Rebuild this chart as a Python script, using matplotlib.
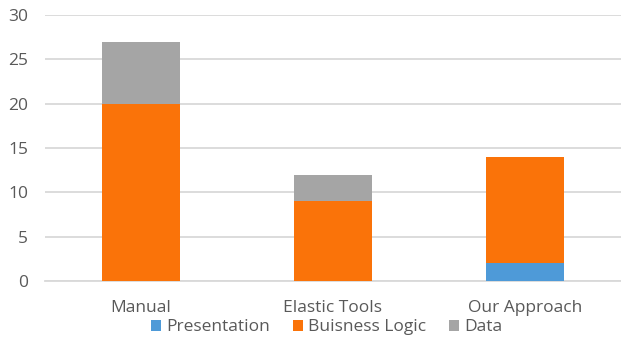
import matplotlib
matplotlib.use('Agg')
import matplotlib.pyplot as plt
import numpy as np

plt.rcParams['font.family'] = 'Open Sans'

categorias = ['Manual', 'Elastic Tools', 'Our Approach']
presentation = [0, 0, 2]
business = [20, 9, 12]
data = [7, 3, 0]
series = ['Presentation', 'Buisness Logic', 'Data']
colores = ['#4E9AD8', '#FA7309', '#A5A5A5']
yticks = [0, 5, 10, 15, 20, 25, 30]

fig = plt.figure(figsize=(6.21, 3.39), dpi=100)
ax = fig.add_axes([0.0725, 0.171, 0.927, 0.785])

x = np.arange(len(categorias))
bottom = np.zeros(len(categorias))
for nombre, vals, col in zip(series, [presentation, business, data], colores):
    ax.bar(x, vals, 0.405, bottom=bottom, color=col, label=nombre, zorder=3)
    bottom += np.array(vals)

ax.set_xlim(-0.5, 2.5)
ax.set_ylim(0, 30)
ax.set_yticks(yticks)
ax.set_xticks(x)
ax.set_xticklabels(categorias)
ax.yaxis.grid(True, color='#D9D9D9', linewidth=1.3, zorder=0)
for s in ['top', 'right', 'left']:
    ax.spines[s].set_visible(False)
ax.spines['bottom'].set_color('#D9D9D9')
ax.spines['bottom'].set_linewidth(1.3)
ax.tick_params(axis='both', length=0, labelsize=12.5, labelcolor='#595959')
ax.tick_params(axis='x', pad=14)
ax.tick_params(axis='y', pad=12)

fig.legend(loc='center', bbox_to_anchor=(0.526, 0.034), ncol=3, frameon=False,
           fontsize=12.5, labelcolor='#595959', handlelength=0.6, handleheight=0.6,
           handletextpad=0.3, columnspacing=1.3, borderpad=0)

fig.savefig('out.png', dpi=100)
